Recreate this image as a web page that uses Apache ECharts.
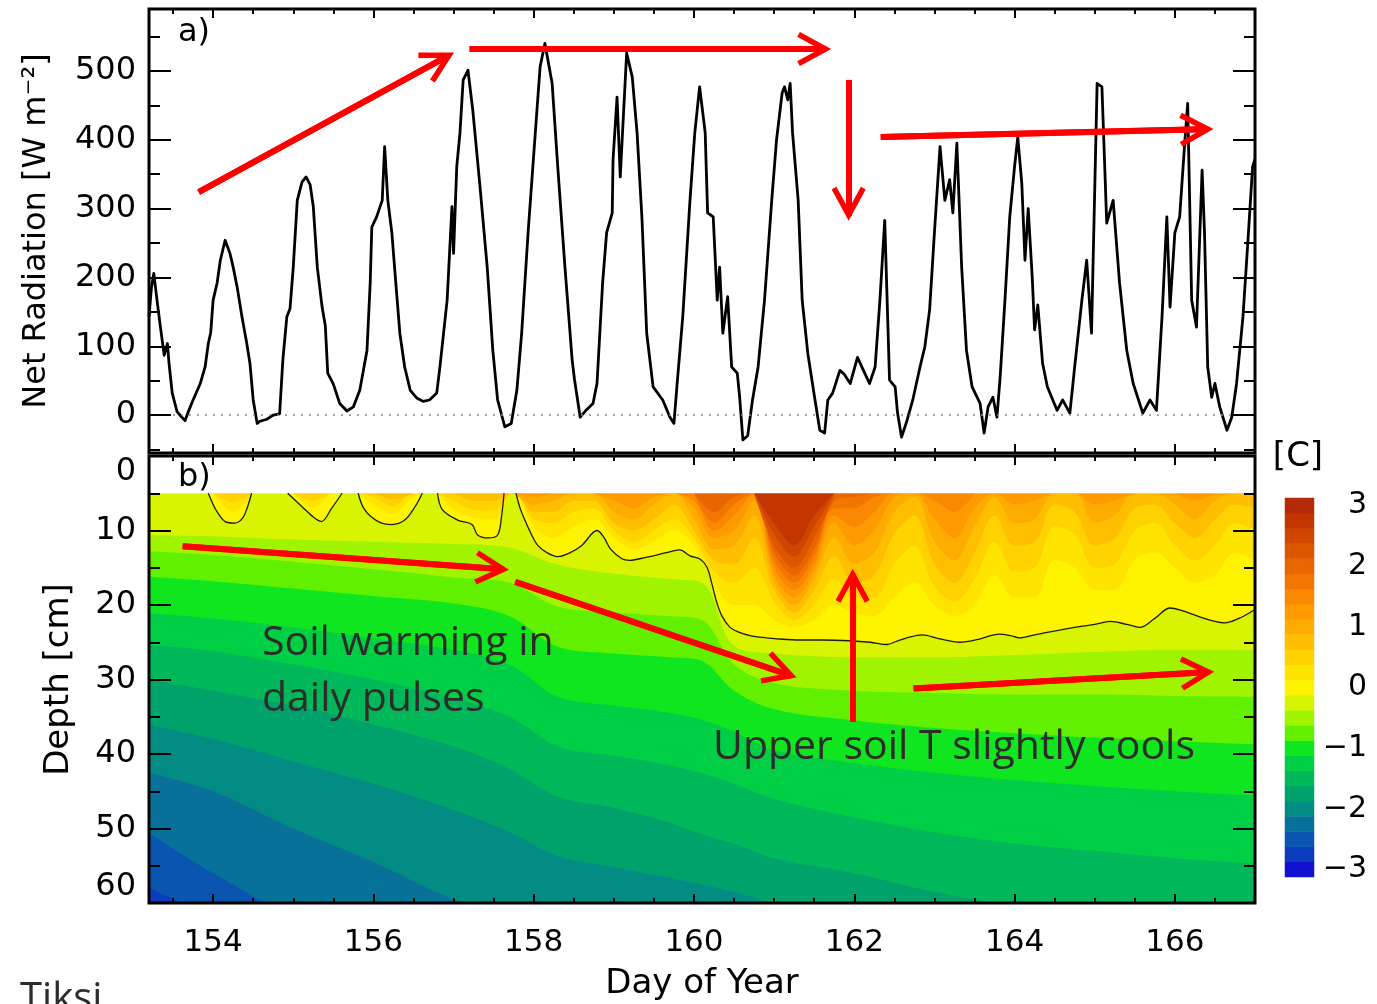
<!DOCTYPE html>
<html lang="en">
<head>
<meta charset="UTF-8">
<title>Net radiation and soil temperature</title>
<script src="https://cdn.jsdelivr.net/npm/echarts@6.0.0/dist/echarts.min.js"></script>
<style>
  html, body { margin: 0; padding: 0; background: #ffffff; }
  #chart { width: 1377px; height: 1004px; }
</style>
</head>
<body>
<div id="chart"></div>
<script>
// ---------- a) net radiation (W m-2) ----------
var radDay = [
  153.20,153.23,153.26,153.30,153.34,153.39,153.43,153.45,153.49,153.55,
  153.61,153.65,153.69,153.75,153.84,153.90,153.94,153.97,154.00,154.05,
  154.09,154.15,154.21,154.25,154.30,154.36,154.42,154.46,154.50,154.55,
  154.58,154.67,154.75,154.83,154.87,154.92,154.96,155.00,155.05,155.11,
  155.16,155.21,155.25,155.30,155.36,155.40,155.43,155.50,155.58,155.67,
  155.75,155.83,155.92,155.96,155.98,156.04,156.11,156.14,156.18,156.23,
  156.27,156.33,156.39,156.46,156.54,156.62,156.70,156.79,156.83,156.92,
  156.98,157.00,157.04,157.08,157.12,157.18,157.24,157.33,157.42,157.49,
  157.55,157.64,157.72,157.79,157.85,157.93,158.02,158.08,158.14,158.23,
  158.30,158.39,158.48,158.51,158.58,158.66,158.74,158.79,158.86,158.91,
  158.98,158.99,159.04,159.08,159.11,159.16,159.23,159.29,159.35,159.41,
  159.49,159.61,159.70,159.75,159.79,159.86,159.95,160.01,160.07,160.14,
  160.17,160.24,160.29,160.32,160.36,160.42,160.47,160.54,160.57,160.61,
  160.67,160.73,160.80,160.88,160.97,161.03,161.10,161.13,161.17,161.20,
  161.23,161.30,161.35,161.42,161.51,161.57,161.63,161.67,161.73,161.82,
  161.87,161.95,162.04,162.13,162.19,162.26,162.32,162.38,162.44,162.51,
  162.54,162.59,162.66,162.73,162.82,162.88,162.94,163.00,163.07,163.13,
  163.19,163.23,163.28,163.34,163.40,163.47,163.57,163.62,163.67,163.73,
  163.78,163.82,163.88,163.94,164.00,164.04,164.09,164.13,164.17,164.22,
  164.25,164.29,164.35,164.41,164.53,164.60,164.69,164.75,164.84,164.90,
  164.96,165.03,165.09,165.15,165.23,165.31,165.40,165.48,165.60,165.69,
  165.77,165.84,165.90,165.94,166.00,166.06,166.12,166.16,166.21,166.27,
  166.34,166.37,166.41,166.46,166.50,166.56,166.65,166.71,166.77,166.85,
  166.91,166.97,167.00
];
var radVal = [
  143,185,206,167,130,87,104,75,32,5,
  -3,-8,5,22,46,70,104,120,167,192,
  225,254,235,215,186,143,104,75,22,-12,
  -9,-6,0,2,80,143,155,215,312,339,
  346,335,303,215,157,130,61,45,17,6,
  12,36,94,192,273,288,312,390,312,265,
  206,119,70,36,25,20,22,32,70,167,
  303,235,361,410,487,501,443,332,215,94,
  22,-17,-12,36,119,265,410,506,540,482,
  361,215,80,51,-3,8,17,46,192,265,
  294,371,462,346,414,526,491,410,288,119,
  41,22,-3,-12,46,143,312,410,477,410,
  294,288,167,215,119,172,70,61,26,-36,
  -30,22,70,167,312,400,468,477,458,482,
  410,312,167,90,22,-22,-26,22,32,65,
  60,46,84,61,46,70,167,283,51,41,
  3,-32,-7,22,70,99,153,265,390,312,
  342,294,395,215,94,41,17,-26,12,26,
  -3,55,167,288,361,404,337,225,300,201,
  124,160,75,41,7,22,3,70,167,225,
  119,482,477,279,312,192,94,46,3,22,
  7,143,288,157,265,288,390,453,167,128,
  356,265,70,26,46,12,-22,-3,46,143,
  250,361,372
];

// ---------- b) soil temperature, as isotherm depths (cm) ----------
// 0 C isotherm (black contour); 5 cm = top sensor, isotherm not present
var b0Day = [153.2,153.94,154.0,154.05,154.15,154.27,154.37,154.43,154.48,154.93,
  155.1,155.25,155.35,155.48,155.61,155.81,155.89,156.06,156.23,156.39,
  156.52,156.61,156.8,156.86,157.05,157.23,157.3,157.43,157.55,157.6,
  157.63,157.78,157.83,157.89,157.97,158.05,158.17,158.3,158.45,158.6,
  158.79,158.88,158.96,159.1,159.2,159.4,159.57,159.72,159.82,159.95,
  160.07,160.16,160.22,160.28,160.35,160.45,160.55,160.7,160.9,161.1,
  161.32,161.6,161.94,162.2,162.41,162.52,162.63,162.85,163.05,163.32,
  163.55,163.81,163.95,164.06,164.25,164.44,164.81,165.0,165.19,165.4,
  165.56,165.75,165.94,166.1,166.31,166.5,166.62,166.8,167.0];
var b0Depth = [5,5,6.5,7.5,8.8,9,8.3,6.8,5,5,
  6.7,8.2,8.8,7,5,5,7.2,8.8,9.2,8.6,
  6.8,5,5,7.2,8.6,9.2,10.6,11,10.6,8,
  5,5,7,8.6,10.5,12,13,13.5,13,12,
  10,11,12.5,13.8,14,13.6,13.2,12.8,12.6,13.4,
  13.8,14.9,17,19.5,21.5,23,23.6,24.1,24.4,24.6,
  24.7,24.7,24.8,25,25.3,24.9,24.5,24,24.5,25,
  24.6,23.9,24.1,24.4,24,23.6,22.9,22.6,22.2,22.6,
  23,21.8,20.4,20.8,21.6,22.2,22.4,21.8,20.6];

// cold isotherms below the 0 C line (band edges -0.375 ... -2.625 C)
var coldDay = [153.2,154,155,156,157,157.7,158.3,159,159.7,160.1,160.5,161,162,163,164,165,166,167];
var cold1  = [10.6,10.8,11.2,11.5,11.8,12.3,14.6,15.8,16.5,17,25.5,26.5,27,27,26.7,26.3,26,26];
var cold2  = [12.8,13.3,14.2,15.2,16.3,17,20.2,21,21.5,22,28,30.5,31.5,31.8,32,32,32.2,32.3];
var cold3  = [16.2,16.8,17.8,18.8,19.8,21.5,25.6,26.5,27,27.5,31.5,34,35.5,36.5,37.2,37.8,38.3,38.7];
var cold4  = [21.1,21.8,23,24.5,26,28,32.3,33.5,34.5,35.4,37,39.5,41.2,42.5,43.5,44.3,45,45.6];
var cold5  = [25.3,26.2,28,30,32.5,35,39,40.2,41.5,42.6,44,46,48.5,50.5,52,53,54,54.7];
var cold6  = [30,31.5,33.5,36,39,42,45.7,47.2,49.2,50.8,52,54,56,58.5,60.3,61.5,62.5,63.5];
var cold7  = [36.1,38,41,44,47.5,50.5,53.7,55.2,56.6,57.5,58.5,60,61.5,63,64,65,66,67];
var cold8  = [42.5,45,50,54.5,59.5,61.5,63,64,65,65.5,66,66.5,67.5,68.5,69.5,70.5,71.5,72.5];
var cold9  = [50.6,56,61.5,63.5,65,66,67,68,69,69.5,70,70.5,71.5,72.5,73.5,74.5,75.5,76.5];
var cold10 = [58,61.5,64,66,68,69,70,71,72,72.5,73,73.5,74.5,75.5,76.5,77.5,78.5,79.5];

// warm isotherms above the 0 C line (null = surface colder than the level)
var warmDay = [153.75,154,154.25,154.5,154.75,155,155.25,155.5,155.75,156,156.25,156.5,156.75,157,157.25,157.5,157.75,
  158,158.25,158.5,158.75,159,159.25,159.5,159.75,160,160.25,160.5,160.75,161,161.25,161.5,161.75,
  162,162.25,162.5,162.75,163,163.25,163.5,163.75,164,164.25,164.5,164.75,165,165.25,165.5,165.75,
  166,166.25,166.5,166.75,167];
var warm1 = [null,5,7.5,5,null,5,7,5,5,6.5,7.8,5.5,5,7.2,8.3,8.5,5,
  9.5,11,9.5,8.5,11,12.5,11.5,10,12,17,20,20,22,23,22,20,
  21,21.5,19,17,20,21.5,20,16,19,19,14,15,18,18,14,13,
  15,17,16,13,14];
var warm2 = [null,5,6.2,5,null,5,6,5,5,5.5,6.8,5,5,6,7.2,7.3,5,
  8.5,9,7.5,7,10,11.5,10,8.5,11,15.5,17,15,19.5,22,20,16.5,
  19,19,14.5,12,17.5,19.5,16.5,11.5,15.5,15,9.5,10.5,15,14.5,10,9,
  12,14,12,9,10];
var warm3 = [null,null,null,null,null,null,null,null,null,5,5.8,5,null,5,6,6,5,
  7.5,7.5,6,6,9,10,8.5,6.5,10,14,14.5,11,18,21,18,13.5,
  17,16,10.5,8,14.5,17,13,8,12,11.5,6.5,7.5,12,11,7,6.5,
  9,11,8.5,6.5,7];
var warm4 = [null,null,null,null,null,null,null,null,null,null,null,null,null,null,null,null,5,
  6.5,6,5,5,7.5,8.5,6.5,5,8.5,12.5,12,8,17,20,16.5,11,
  14.5,13,7.5,5.5,11.5,14,9.5,5.5,9,8.5,5,5,9,8,5,5,
  6.5,8.5,6,5,5];
var warm5 = [null,null,null,null,null,null,null,null,null,null,null,null,null,null,null,null,5,
  5.5,5,null,5,6,7,5.5,5,7,11,10,6,16,19,15.5,9,
  12,10,5.5,5,8.5,11,7,5,6.5,6,5,5,6.5,6,5,null,
  5,6,5,null,null];
var hotDay = [159.75,160,160.25,160.5,160.75,161,161.25,161.5,161.75,162,162.25,162.5,162.75,163,163.25,163.5];
var warm6  = [5,6,10,8,5,15,18,14.5,8,9.5,7.5,5,5,6,7.5,5];
var warm7  = [null,5,9,6.5,5,14,17,13.5,7,7,5.5,5,null,null,null,null];
var warm8  = [null,5,7.5,5.5,5,13,16,12.5,6,5.5,5,null,null,null,null,null];
var warm9  = [null,null,null,null,5,12,15,11,5.5,null,null,null,null,null,null,null];
var warm10 = [null,null,null,null,5,10.5,13.5,9.5,5,null,null,null,null,null,null,null];
var warm11 = [null,null,null,null,5,9,12,8,5,null,null,null,null,null,null,null];

// colour scale
var levels = [-3,-2.75,-2.5,-2.25,-2,-1.75,-1.5,-1.25,-1,-0.75,-0.5,-0.25,0,0.25,0.5,0.75,1,1.25,1.5,1.75,2,2.25,2.5,2.75,3];
var palette = ['#1010d0','#0c3cbe','#0a55b0','#08719a','#038c84','#00a26c','#00b85a','#00cf46','#10e620','#60f000',
  '#a0f400','#d8f400','#fff400','#ffe400','#ffd200','#ffbf00','#ffac00','#ff9a00','#fa8800','#f27600',
  '#e86600','#dc5600','#d04600','#c43600','#b42a08'];

// ticks and labels
var dayMajor = [154,156,158,160,162,164,166];
var dayMinor = [153.5,154,154.5,155,155.5,156,156.5,157,157.5,158,158.5,159,159.5,160,160.5,161,161.5,162,162.5,163,163.5,164,164.5,165,165.5,166,166.5];
var radMajor = [0,100,200,300,400,500];
var radMinor = [-50,50,150,250,350,450,550];
var tempLabels = [-3,-2,-1,0,1,2,3];

// ---------- layout constants ----------
var DAY_MIN = 153.2, DAY_MAX = 167.0;
var RAD_MIN = -55, RAD_MAX = 590;
var TOP_DEPTH = 5;
var FONT = "'DejaVu Sans', sans-serif";
var NOTE_FONT = "'Open Sans', 'Noto Sans', sans-serif";
var RED = '#ff0000';
var chevron = 'path://M50,0 L100,92 L86,100 L50,34 L14,100 L0,92 Z';

function pairs(xs, ys) {
    return xs.map(function (x, i) { return [x, ys[i]]; });
}
function colorOf(v) {
    return palette[levels.indexOf(v)];
}
// break the contour where it only runs along the top sensor
function contourPoints(days, depths) {
    var pts = [];
    for (var i = 0; i < days.length; i++) {
        if (i > 0 && depths[i] === TOP_DEPTH && depths[i - 1] === TOP_DEPTH) {
            pts.push([(days[i] + days[i - 1]) / 2, null]);
        }
        pts.push([days[i], depths[i]]);
    }
    return pts;
}

function ticks(len, vals) {
    var t = { show: true, inside: true, length: len, lineStyle: { color: '#000', width: 2 } };
    if (vals) t.customValues = vals;
    return t;
}
function dayAxis(grid, pos, vals, len, label) {
    return {
        type: 'value', gridIndex: grid, position: pos, min: DAY_MIN, max: DAY_MAX, z: 11,
        axisLine: { show: false, onZero: false },
        splitLine: { show: false },
        axisTick: ticks(len, vals),
        axisLabel: label || { show: false }
    };
}
function radAxis(pos, vals, len, label) {
    return {
        type: 'value', gridIndex: 0, position: pos, min: RAD_MIN, max: RAD_MAX, z: 11,
        axisLine: { show: false, onZero: false },
        splitLine: { show: false },
        axisTick: ticks(len, vals),
        axisLabel: label || { show: false }
    };
}
function depthAxis(pos, label) {
    return {
        type: 'value', gridIndex: 1, position: pos, min: 0, max: 60, interval: 10, inverse: true, z: 11,
        axisLine: { show: false, onZero: false },
        splitLine: { show: false },
        axisTick: ticks(22),
        minorTick: { show: true, splitNumber: 2, length: 11, lineStyle: { color: '#000', width: 2 } },
        minorSplitLine: { show: false },
        axisLabel: label || { show: false }
    };
}

function band(days, depths, level, origin) {
    return {
        type: 'line', xAxisIndex: 4, yAxisIndex: 4, data: pairs(days, depths),
        smooth: 0.35, symbol: 'none', silent: true, z: 2,
        lineStyle: { width: 0, opacity: 0 },
        areaStyle: { color: colorOf(level), opacity: 1, origin: origin }
    };
}
function arrows(xi, yi, segs, head) {
    return {
        type: 'line', xAxisIndex: xi, yAxisIndex: yi, data: [], z: 6, silent: true,
        markLine: {
            silent: true, animation: false,
            symbol: head ? ['none', chevron] : ['none', 'none'],
            symbolSize: 34,
            label: { show: false },
            lineStyle: { color: RED, width: 6, type: 'solid', opacity: 1 },
            data: segs.map(function (s) { return [{ coord: s[0] }, { coord: s[1] }]; })
        }
    };
}

// annotation arrows (data coordinates): shaft to the tip, and head placed on the shaft
var topShafts = [[[153.82, 324], [156.95, 523]], [[157.20, 532], [161.65, 532]],
                 [[161.93, 487], [161.93, 289]], [[162.33, 404], [166.42, 415.5]]];
var topHeads  = [[[153.82, 324], [156.82, 515]], [[157.20, 532], [161.50, 532]],
                 [[161.93, 487], [161.93, 307]], [[162.33, 404], [166.27, 415]]];
var botShafts = [[[153.62, 12.1], [157.63, 15.2]], [[157.77, 16.9], [161.22, 29.5]],
                 [[161.98, 35.7], [161.98, 15.8]], [[162.74, 31.2], [166.43, 29.0]]];
var botHeads  = [[[153.62, 12.1], [157.48, 15.1]], [[157.77, 16.9], [161.08, 29.0]],
                 [[161.98, 35.7], [161.98, 17.4]], [[162.74, 31.2], [166.28, 29.1]]];

var chart = echarts.init(document.getElementById('chart'));
window.addEventListener('resize', function () { chart.resize(); });

var series = [];
// soil temperature field: cold bands painted downward, warm bands upward
series.push(band(b0Day, b0Depth, -0.25, 'end'));
[cold1, cold2, cold3, cold4, cold5, cold6, cold7, cold8, cold9, cold10].forEach(function (d, k) {
    series.push(band(coldDay, d, -0.5 - 0.25 * k, 'end'));
});
series.push(band(b0Day, b0Depth, 0, 'start'));
[warm1, warm2, warm3, warm4, warm5].forEach(function (d, k) {
    series.push(band(warmDay, d, 0.25 + 0.25 * k, 'start'));
});
[warm6, warm7, warm8, warm9, warm10, warm11].forEach(function (d, k) {
    series.push(band(hotDay, d, 1.5 + 0.25 * k, 'start'));
});
// blank strip above the top sensor
series.push({
    type: 'line', xAxisIndex: 4, yAxisIndex: 4, z: 3, silent: true,
    data: [[DAY_MIN, TOP_DEPTH], [DAY_MAX, TOP_DEPTH]],
    symbol: 'none', lineStyle: { width: 0, opacity: 0 },
    areaStyle: { color: '#ffffff', opacity: 1, origin: 'start' }
});
// 0 C contour
series.push({
    type: 'line', xAxisIndex: 4, yAxisIndex: 4, data: contourPoints(b0Day, b0Depth),
    smooth: 0.35, symbol: 'none', silent: true, z: 3,
    lineStyle: { color: '#1a1a1a', width: 1.3 }
});
// net radiation
series.push({
    type: 'line', xAxisIndex: 0, yAxisIndex: 0, data: pairs(radDay, radVal),
    symbol: 'none', silent: true, z: 3,
    lineStyle: { color: '#000', width: 2.8, join: 'round' },
    markLine: {
        silent: true, animation: false, symbol: ['none', 'none'], label: { show: false },
        lineStyle: { color: '#8a8a8a', type: [2, 6], width: 1.6 },
        data: [{ yAxis: 0 }]
    }
});
series.push(arrows(0, 0, topShafts, false));
series.push(arrows(0, 0, topHeads, true));
series.push(arrows(4, 4, botShafts, false));
series.push(arrows(4, 4, botHeads, true));
// colour bar
series.push({
    type: 'heatmap', xAxisIndex: 8, yAxisIndex: 6, silent: true,
    itemStyle: { borderWidth: 0 },
    data: levels.map(function (v, i) {
        return { value: [0, i, v], itemStyle: { color: palette[i] } };
    })
});

chart.setOption({
    animation: false,
    backgroundColor: '#ffffff',
    grid: [
        { left: 149, top: 9, width: 1106, height: 444, show: true, z: 10,
          borderColor: '#000', borderWidth: 3, backgroundColor: 'transparent' },
        { left: 149, top: 456, width: 1106, height: 447, show: true, z: 10,
          borderColor: '#000', borderWidth: 3, backgroundColor: 'transparent' },
        { left: 1285, top: 498, width: 29, height: 379, show: false }
    ],
    xAxis: [
        dayAxis(0, 'bottom', dayMajor, 9),
        dayAxis(0, 'bottom', dayMinor, 5),
        dayAxis(0, 'top', dayMajor, 9),
        dayAxis(0, 'top', dayMinor, 5),
        Object.assign(dayAxis(1, 'bottom', dayMajor, 9, {
            show: true, customValues: dayMajor, margin: 24, fontSize: 31,
            fontFamily: FONT, color: '#000'
        }), {
            name: 'Day of Year', nameLocation: 'middle', nameGap: 64,
            nameTextStyle: { fontSize: 34, fontFamily: FONT, color: '#000' }
        }),
        dayAxis(1, 'bottom', dayMinor, 5),
        dayAxis(1, 'top', dayMajor, 9),
        dayAxis(1, 'top', dayMinor, 5),
        { type: 'category', gridIndex: 2, data: ['T'], show: false }
    ],
    yAxis: [
        Object.assign(radAxis('left', radMajor, 22, {
            show: true, customValues: radMajor, margin: 13, fontSize: 32,
            fontFamily: FONT, color: '#000'
        }), {
            name: 'Net Radiation [W m\u207B\u00B2]', nameLocation: 'middle', nameGap: 96,
            nameTextStyle: { fontSize: 32, fontFamily: FONT, color: '#000' }
        }),
        radAxis('left', radMinor, 11),
        radAxis('right', radMajor, 22),
        radAxis('right', radMinor, 11),
        Object.assign(depthAxis('left', {
            show: true, margin: 13, fontSize: 32, fontFamily: FONT, color: '#000',
            verticalAlignMinLabel: 'top', verticalAlignMaxLabel: 'bottom'
        }), {
            name: 'Depth [cm]', nameLocation: 'middle', nameGap: 73,
            nameTextStyle: { fontSize: 34, fontFamily: FONT, color: '#000' }
        }),
        depthAxis('right'),
        { type: 'category', gridIndex: 2, position: 'left', data: levels.map(String), show: false },
        {
            type: 'value', gridIndex: 2, position: 'right', min: -3.125, max: 3.125,
            axisLine: { show: false }, axisTick: { show: false }, splitLine: { show: false },
            axisLabel: {
                show: true, customValues: tempLabels, align: 'right', margin: 53,
                fontSize: 30, fontFamily: FONT, color: '#000',
                formatter: function (v) { return v < 0 ? '\u2212' + (-v) : String(v); }
            }
        }
    ],
    series: series,
    graphic: [
        { type: 'text', x: 178, y: 33, z: 100, silent: true,
          style: { text: 'a)', font: '32px ' + FONT, fill: '#000', verticalAlign: 'middle', textVerticalAlign: 'middle' } },
        { type: 'text', x: 178, y: 478, z: 100, silent: true,
          style: { text: 'b)', font: '32px ' + FONT, fill: '#000', verticalAlign: 'middle', textVerticalAlign: 'middle' } },
        { type: 'text', x: 1298, y: 457, z: 100, silent: true,
          style: { text: '[C]', font: '34px ' + FONT, fill: '#000', align: 'center', textAlign: 'center',
                   verticalAlign: 'middle', textVerticalAlign: 'middle' } },
        { type: 'text', x: 262, y: 643, z: 100, silent: true,
          style: { text: 'Soil warming in', font: '41px ' + NOTE_FONT, fill: '#2e2b29', verticalAlign: 'middle', textVerticalAlign: 'middle' } },
        { type: 'text', x: 262, y: 699, z: 100, silent: true,
          style: { text: 'daily pulses', font: '41px ' + NOTE_FONT, fill: '#2e2b29', verticalAlign: 'middle', textVerticalAlign: 'middle' } },
        { type: 'text', x: 713, y: 747, z: 100, silent: true,
          style: { text: 'Upper soil T slightly cools', font: '41px ' + NOTE_FONT, fill: '#2e2b29', verticalAlign: 'middle', textVerticalAlign: 'middle' } },
        { type: 'text', x: 20, y: 980, z: 100, silent: true,
          style: { text: 'Tiksi', font: '40px ' + NOTE_FONT, fill: '#2e2b29', verticalAlign: 'top', textVerticalAlign: 'top' } }
    ]
});
</script>
</body>
</html>
